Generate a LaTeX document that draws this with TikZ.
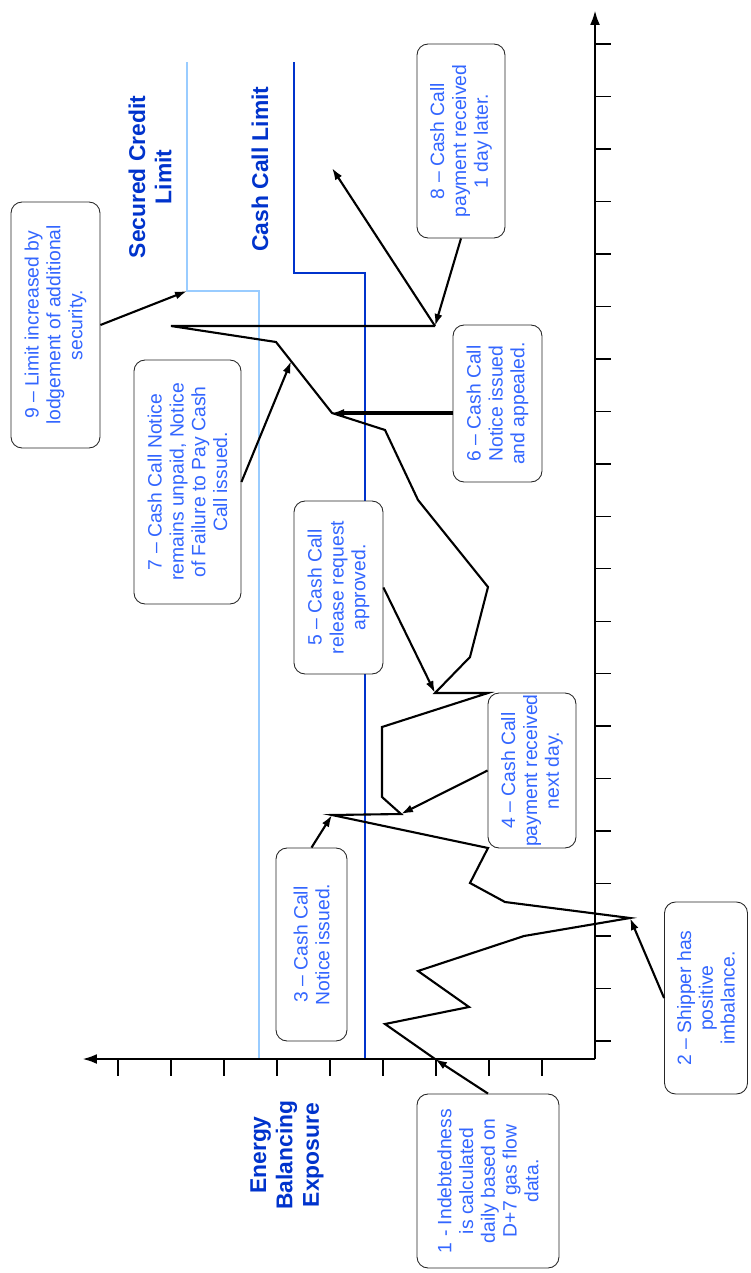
\documentclass[tikz,border=0pt]{standalone}
\usepackage{fontspec}
\setmainfont{Liberation Sans}
\usetikzlibrary{arrows.meta,calc}

\definecolor{labelblue}{RGB}{0,51,204}
\definecolor{noteblue}{RGB}{51,102,255}
\definecolor{securedblue}{RGB}{153,204,255}

\tikzstyle{callout}=[draw=black!85, fill=white, line width=0.5pt, rounded corners=0.22cm, rotate=90, align=center, inner sep=0pt, text=noteblue, font=\fontsize{11pt}{12.4pt}\selectfont]
\tikzstyle{limitlabel}=[rotate=90, align=center, text=labelblue, font=\fontsize{13pt}{15pt}\selectfont\bfseries]
\tikzstyle{pointer}=[line width=1.2pt, -{Latex[length=2.4mm,width=1.6mm]}]
\tikzstyle{exposure}=[line width=1.2pt]

\begin{document}
\begin{tikzpicture}[x=0.02cm, y=-0.02cm]
\useasboundingbox (0,0) rectangle (750,1273);

\def \tickgap {52.47}

% limits
\coordinate (s1) at (259,291);
\coordinate (s2) at (187,291);
\draw[securedblue, line width=1pt] (259,1059) -- (s1) -- (s2) -- (187,62);
\draw[labelblue, line width=1pt] (365,1059) -- (365,273) -- (294,273) -- (294,62);

\node[limitlabel] (securedlbl) at (150,177) {Secured Credit\\Limit};
\node[limitlabel] (cashlbl) at (260,169) {Cash Call Limit};
\node[limitlabel] (exposurelbl) at (287,1155) {Energy\\Balancing\\Exposure};

% axes
\coordinate (o) at (595,1059);
\draw[line width=1.6pt, -{Latex[length=3mm,width=2mm]}] (o) -- (595,10);
\draw[line width=1.6pt, -{Latex[length=3mm,width=2mm]}] (o) -- (82,1059);
\foreach \k in {0,...,19}{
  \draw[line width=0.8pt] (595,{1041-\tickgap*\k}) -- (611,{1041-\tickgap*\k});
}
\foreach \k in {1,...,9}{
  \draw[line width=0.8pt] (595-53*\k,1059) -- (595-53*\k,1076);
}

% exposure line
\foreach \px/\py [count=\i from 0] in {435/1059, 385/1024, 469/1007, 418/971, 524/936, 630/918,
  505/902, 470/883, 488/848, 332/815, 401/814, 382/797, 382/727, 488/693, 435/693, 470/657,
  488/587, 418/500, 385/430, 332/413, 276/342, 171/326, 435/326, 332/168}{
  \coordinate (p\i) at (\px,\py);
}
\draw[exposure] (p0) \foreach \i in {1,...,22}{ -- (p\i)};
\draw[pointer] (p22) -- (p23);

% callouts
\node[callout, minimum width=3.48cm, minimum height=2.84cm] (b1) at (488,1181) {1 - Indebtedness\\is calculated\\daily based on\\D+7 gas flow\\data.};
\node[callout, minimum width=3.84cm, minimum height=1.66cm] (b2) at (706,998) {2 -- Shipper has\\positive\\imbalance.};
\node[callout, minimum width=3.86cm, minimum height=1.42cm] (b3) at (311.5,944.5) {3 -- Cash Call\\Notice issued.};
\node[callout, minimum width=3.1cm, minimum height=1.76cm] (b4) at (532,770.5) {4 -- Cash Call\\payment received\\next day.};
\node[callout, minimum width=3.46cm, minimum height=1.78cm] (b5) at (338.5,587.5) {5 -- Cash Call\\release request\\approved.};
\node[callout, minimum width=3.14cm, minimum height=1.78cm] (b6) at (497.5,403.5) {6 -- Cash Call\\Notice issued\\and appealed.};
\node[callout, minimum width=4.88cm, minimum height=2.14cm] (b7) at (187.5,482) {7 -- Cash Call Notice\\remains unpaid, Notice\\of Failure to Pay Cash\\Call issued.};
\node[callout, minimum width=3.88cm, minimum height=1.76cm] (b8) at (461,141) {8 -- Cash Call\\payment received\\1 day later.};
\node[callout, minimum width=4.92cm, minimum height=1.78cm] (b9) at (55.5,325) {9 -- Limit increased by\\lodgement of additional\\security.};

\draw[pointer] (b1.east) -- (p0);
\draw[pointer] (b2.north) -- (p5);
\draw[pointer] (b3.east) -- (p9);
\draw[pointer] (b4.north) -- (p10);
\draw[pointer] (b5.south) -- (p14);
\draw[pointer, line width=1.8pt] (b6.north |- p19) -- (p19);
\draw[pointer] (b7.south) -- ($(p19)!0.73!(p20)$);
\draw[pointer] (b8.west) -- (p22);
\draw[pointer] (b9.south) -- (s2);

\end{tikzpicture}
\end{document}
